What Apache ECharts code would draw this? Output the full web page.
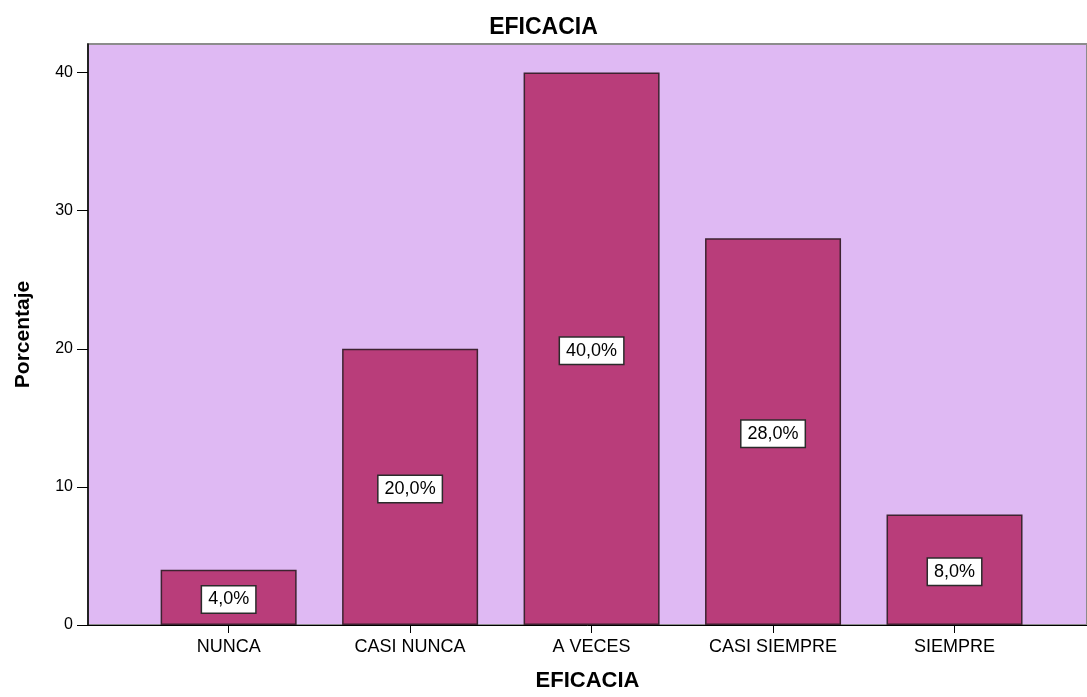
<!DOCTYPE html>
<html>
<head>
<meta charset="utf-8">
<script src="https://cdn.jsdelivr.net/npm/echarts@6/dist/echarts.min.js"></script>
<style>
html, body { margin: 0; padding: 0; background: #fff; }
#barChart { width: 1087px; height: 697px; }
</style>
</head>
<body>
<div id="barChart"></div>
<script>
var categories = ['NUNCA', 'CASI NUNCA', 'A VECES', 'CASI SIEMPRE', 'SIEMPRE'];
var porcentaje = [4, 20, 40, 28, 8];
var yTicks = [0, 10, 20, 30, 40];

var dom = document.getElementById("barChart");
var myChart = echarts.init(dom);

// bars sit on a numeric axis so the plot area can run on past the last bar
var barData = porcentaje.map(function (v, i) { return [i, v]; });
var catIdx = categories.map(function (c, i) { return i; });

var option = {
    textStyle: { fontFamily: 'Liberation Sans, Arial, sans-serif', color: '#000' },
    title: {
        text: 'EFICACIA',
        left: 'center',
        top: 11,
        textStyle: { fontSize: 23, fontWeight: 'bold', color: '#000' }
    },
    grid: {
        left: 88,
        right: -3,
        top: 44,
        bottom: 64,
        show: true,
        backgroundColor: '#DFB9F3',
        borderColor: '#8c8c8c',
        borderWidth: 2
    },
    xAxis: {
        type: 'value',
        min: -0.775,
        max: 4.73,
        name: 'EFICACIA',
        nameLocation: 'middle',
        nameGap: 45,
        nameTextStyle: { fontSize: 22, fontWeight: 'bold', color: '#000' },
        axisLine: { show: true, onZero: false, lineStyle: { color: '#000', width: 1 } },
        axisTick: { show: true, length: 8, customValues: catIdx, lineStyle: { color: '#000' } },
        axisLabel: {
            customValues: catIdx,
            margin: 13,
            fontSize: 18,
            color: '#000',
            formatter: function (v) { return categories[Math.round(v)]; }
        },
        splitLine: { show: false }
    },
    yAxis: {
        type: 'value',
        min: 0,
        max: 42.07,
        interval: 10,
        name: 'Porcentaje',
        nameLocation: 'middle',
        nameGap: 54,
        nameTextStyle: { fontSize: 21, fontWeight: 'bold', color: '#000' },
        axisLine: { show: true, onZero: false, lineStyle: { color: '#000', width: 1.5 } },
        axisTick: { show: true, length: 11, customValues: yTicks, lineStyle: { color: '#000' } },
        axisLabel: {
            customValues: yTicks,
            margin: 15,
            fontSize: 16,
            color: '#000'
        },
        splitLine: { show: false }
    },
    series: [
        {
            name: 'Porcentaje',
            type: 'bar',
            data: barData,
            barWidth: 136,
            itemStyle: { color: '#B93D7A', borderColor: '#3d2330', borderWidth: 1.5 },
            label: {
                show: true,
                position: 'inside',
                formatter: function (p) { return p.value[1].toFixed(1).replace('.', ',') + '%'; },
                fontSize: 18,
                lineHeight: 20,
                color: '#000',
                backgroundColor: '#fff',
                borderColor: '#2b2b2b',
                borderWidth: 1.5,
                padding: [3, 6, 3, 6],
                offset: [0, 2]
            }
        }
    ]
};

myChart.setOption(option, true);
</script>
</body>
</html>
